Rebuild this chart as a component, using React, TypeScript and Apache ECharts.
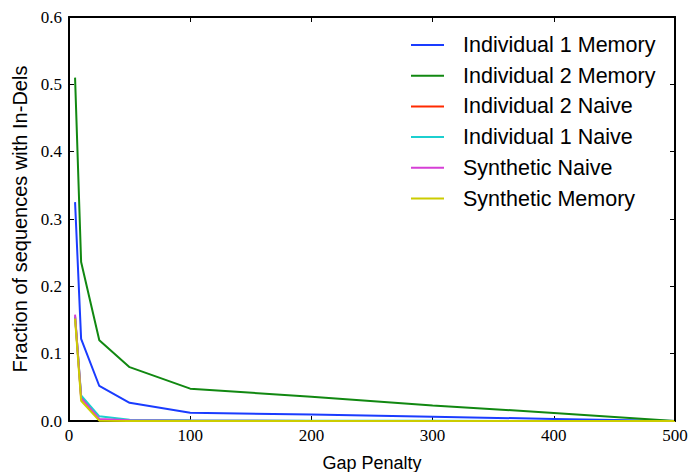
import React, { useEffect, useRef } from "react";
import * as echarts from "echarts";

const gapPenalty = [5, 10, 25, 50, 100, 200, 300, 400, 500];
const ind1Memory = [0.325, 0.122, 0.052, 0.027, 0.0123, 0.0095, 0.0064, 0.003, 0.0];
const ind2Memory = [0.51, 0.236, 0.12, 0.08, 0.048, 0.036, 0.023, 0.012, 0.0];
const ind2Naive = [0.155, 0.036, 0.002, 0.0005, 0.0002, 0.0001, 0.0, 0.0, 0.0];
const ind1Naive = [0.155, 0.038, 0.007, 0.002, 0.001, 0.0005, 0.0003, 0.0001, 0.0];
const synNaive = [0.158, 0.034, 0.003, 0.001, 0.0003, 0.0001, 0.0, 0.0, 0.0];
const synMemory = [0.152, 0.03, 0.0005, 0.0, 0.0, 0.0, 0.0, 0.0, 0.0];

const seriesNames = [
  "Individual 1 Memory",
  "Individual 2 Memory",
  "Individual 2 Naive",
  "Individual 1 Naive",
  "Synthetic Naive",
  "Synthetic Memory",
];
const seriesValues = [ind1Memory, ind2Memory, ind2Naive, ind1Naive, synNaive, synMemory];
const colors = ["#1a3cff", "#118811", "#ff2a00", "#1ccfcf", "#d63fd6", "#cccc00"];

const xTicks = [0, 100, 200, 300, 400, 500];
const yTicks = [0, 0.1, 0.2, 0.3, 0.4, 0.5, 0.6];

const W = 689;
const H = 472;
const G = { left: 69, right: 14, top: 17, bottom: 51 };

export default function App() {
  const ref = useRef<HTMLDivElement>(null);
  useEffect(() => {
    if (!ref.current) return;
    const chart = echarts.init(ref.current, undefined, { renderer: "svg" });
    const serif = "Liberation Serif";
    const sans = "Liberation Sans";
    const tickStyle = { show: true, inside: true, length: 5, lineStyle: { color: "#000", width: 1 } };
    const axisLine = { show: true, onZero: false, lineStyle: { color: "#000", width: 2 } };
    const xMin = xTicks[0];
    const xMax = xTicks[xTicks.length - 1];
    const yMin = yTicks[0];
    const yMax = yTicks[yTicks.length - 1];
    chart.setOption({
      animation: false,
      backgroundColor: "#fff",
      grid: {
        ...G,
        containLabel: false,
        outerBoundsMode: "none",
        show: false,
      },
      legend: {
        orient: "vertical",
        left: 406,
        top: 28,
        itemWidth: 33,
        itemHeight: 2,
        itemGap: 6.7,
        icon: "rect",
        data: seriesNames,
        textStyle: {
          fontFamily: sans,
          fontSize: 21.5,
          color: "#000",
          lineHeight: 24,
          padding: [0, 0, 0, 14],
        },
      },
      xAxis: [
        {
          type: "value",
          min: xMin,
          max: xMax,
          interval: 100,
          name: "Gap Penalty",
          nameLocation: "middle",
          nameGap: 33,
          nameTextStyle: { fontFamily: sans, fontSize: 18, color: "#000" },
          axisLine,
          axisTick: tickStyle,
          axisLabel: { fontFamily: serif, fontSize: 17, color: "#000", margin: 6 },
          splitLine: { show: false },
        },
        {
          type: "value",
          position: "top",
          min: xMin,
          max: xMax,
          interval: 100,
          axisLine,
          axisTick: tickStyle,
          axisLabel: { show: false },
          splitLine: { show: false },
        },
      ],
      yAxis: [
        {
          type: "value",
          min: yMin,
          max: yMax,
          interval: 0.1,
          name: "Fraction of sequences with In-Dels",
          nameLocation: "middle",
          nameGap: 39,
          nameTextStyle: { fontFamily: sans, fontSize: 20, color: "#000" },
          axisLine,
          axisTick: tickStyle,
          axisLabel: {
            fontFamily: serif,
            fontSize: 17,
            color: "#000",
            margin: 7,
            formatter: (v: number) => v.toFixed(1),
          },
          splitLine: { show: false },
        },
        {
          type: "value",
          position: "right",
          min: yMin,
          max: yMax,
          interval: 0.1,
          axisLine,
          axisTick: tickStyle,
          axisLabel: { show: false },
          splitLine: { show: false },
        },
      ],
      series: [
        {
          name: "frame",
          type: "line",
          data: [
            [xMin, yMax],
            [xMax, yMax],
            [xMax, yMin],
          ],
          xAxisIndex: 0,
          yAxisIndex: 0,
          silent: true,
          showSymbol: false,
          symbol: "none",
          clip: false,
          z: 10,
          lineStyle: { color: "#000", width: 2 },
          itemStyle: { color: "#000" },
        },
        ...seriesNames.map((name, i) => ({
          name,
          type: "line",
          data: gapPenalty.map((x, j) => [x, seriesValues[i][j]]),
          showSymbol: false,
          symbol: "none",
          lineStyle: { color: colors[i], width: 2 },
          itemStyle: { color: colors[i] },
          xAxisIndex: 0,
          yAxisIndex: 0,
        })),
      ],
    });
    return () => chart.dispose();
  }, []);
  return <div ref={ref} style={{ width: W, height: H, position: "absolute", left: 0, top: 0 }} />;
}
